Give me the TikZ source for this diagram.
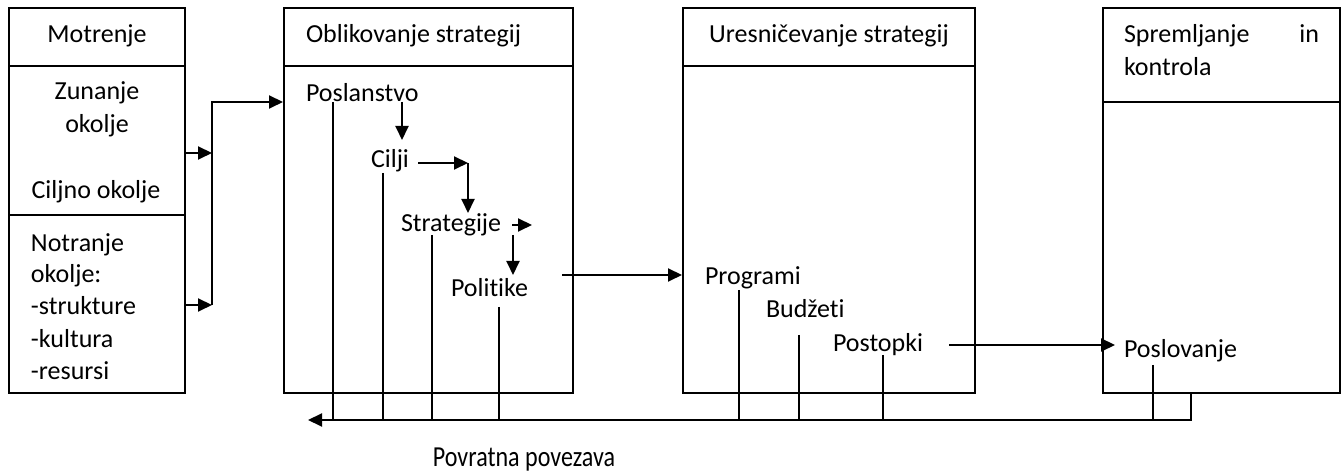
\documentclass[tikz,border=0pt]{standalone}
\usepackage{fontspec}
\usepackage{graphicx}
\setmainfont{Carlito}[Ligatures=NoCommon]
\usetikzlibrary{arrows.meta,fit}
\begin{document}
\begin{tikzpicture}[x=0.5pt,y=-0.5pt, line width=1pt,
  txt/.style={anchor=base west, inner sep=0pt, font=\fontsize{13pt}{16pt}\selectfont},
  ctxt/.style={anchor=base, inner sep=0pt, font=\fontsize{13pt}{16pt}\selectfont},
  arr/.style={-{Triangle[length=7pt,width=6.5pt]}}]
\useasboundingbox (0,0) rectangle (1344,474);

% boxes
\node[draw, fit={(9,8) (185,393)}, inner sep=0pt] (b1) {};
\node[draw, fit={(284,8) (573,393)}, inner sep=0pt] (b2) {};
\node[draw, fit={(683,8) (975,393)}, inner sep=0pt] (b3) {};
\node[draw, fit={(1103,8) (1340,393)}, inner sep=0pt] (b4) {};
\draw (b1.west |- 0,66) -- (b1.east |- 0,66);
\draw (b1.west |- 0,215) -- (b1.east |- 0,215);
\draw (b2.west |- 0,66) -- (b2.east |- 0,66);
\draw (b3.west |- 0,66) -- (b3.east |- 0,66);
\draw (b4.west |- 0,102) -- (b4.east |- 0,102);

% texts box 1
\node[ctxt] (mot) at (97,43) {Motrenje};
\node[ctxt] (zun1) at (97,100) {Zunanje};
\node[ctxt] (zun2) at (97,133) {okolje};
\node[ctxt] (cok) at (96,199) {Ciljno okolje};
\node[txt] (n1) at (30,252) {Notranje};
\node[txt] (n2) at (30,283) {okolje:};
\node[txt] (n3) at (30,315) {-strukture};
\node[txt] (n4) at (30,348) {-kultura};
\node[txt] (n5) at (30,380) {-resursi};

% texts box 2
\node[txt] (obl) at (305,43) {Oblikovanje strategij};
\node[txt] (posl) at (305,102) {Poslanstvo};
\node[txt] (cilji) at (370,168) {Cilji};
\node[txt] (strat) at (400,232) {Strategije};
\node[txt] (pol) at (450,297) {Politike};

% texts box 3
\node[ctxt] (ures) at (829,43) {Uresničevanje strategij};
\node[txt] (prog) at (704,285) {Programi};
\node[txt] (budz) at (765,318) {Budžeti};
\node[txt] (post) at (832,352) {Postopki};

% texts box 4
\node[txt] (spr) at (1123,43) {\makebox[97.5pt][l]{Spremljanje\hfill in}};
\node[txt] (kon) at (1123,76) {kontrola};
\node[txt] (posv) at (1123,358) {Poslovanje};

% caption
\node[anchor=base, inner sep=0pt] (pov) at (524,467) {\scalebox{0.83}[1]{\fontsize{14.5pt}{17pt}\selectfont Povratna povezava}};

% inputs into box 2
\coordinate (j1) at (212,153);
\coordinate (j2) at (212,305);
\coordinate (j3) at (212,102);
\draw[arr] (b1.east |- j1) -- (j1);
\draw[arr] (b1.east |- j2) -- (j2);
\draw[arr] (j2) -- (j3) -- (b2.west |- j3);

% chain in box 2
\coordinate (a1) at (402,102);
\coordinate (a2) at (402,140);
\draw[arr] (a1) -- (a2);
\coordinate (c1) at (418,163);
\coordinate (c2) at (468,163);
\coordinate (c3) at (468,213);
\draw[arr] (c1) -- (c2);
\draw[arr] (c2) -- (c3);
\coordinate (s1) at (512,225);
\coordinate (s2) at (532,225);
\coordinate (s3) at (513,235);
\coordinate (s4) at (513,275);
\draw[arr] (s1) -- (s2);
\draw[arr] (s3) -- (s4);

% to box 3 and box 4
\coordinate (pl1) at (562,275);
\draw[arr] (pl1) -- (b3.west |- pl1);
\coordinate (ps1) at (949,345);
\coordinate (ps2) at (1115,345);
\draw[arr] (ps1) -- (ps2);

% feedback
\coordinate (fbR) at (1191,420);
\coordinate (fbL) at (308,420);
\draw[arr] (b4.south -| fbR) -- (fbR) -- (fbL);
\foreach \x/\y in {333/102, 383/173, 432/235, 499/307, 739/290, 799/335, 883/355, 1153/365}
  \draw (\x,\y) -- (fbL -| \x,0);
\end{tikzpicture}
\end{document}
